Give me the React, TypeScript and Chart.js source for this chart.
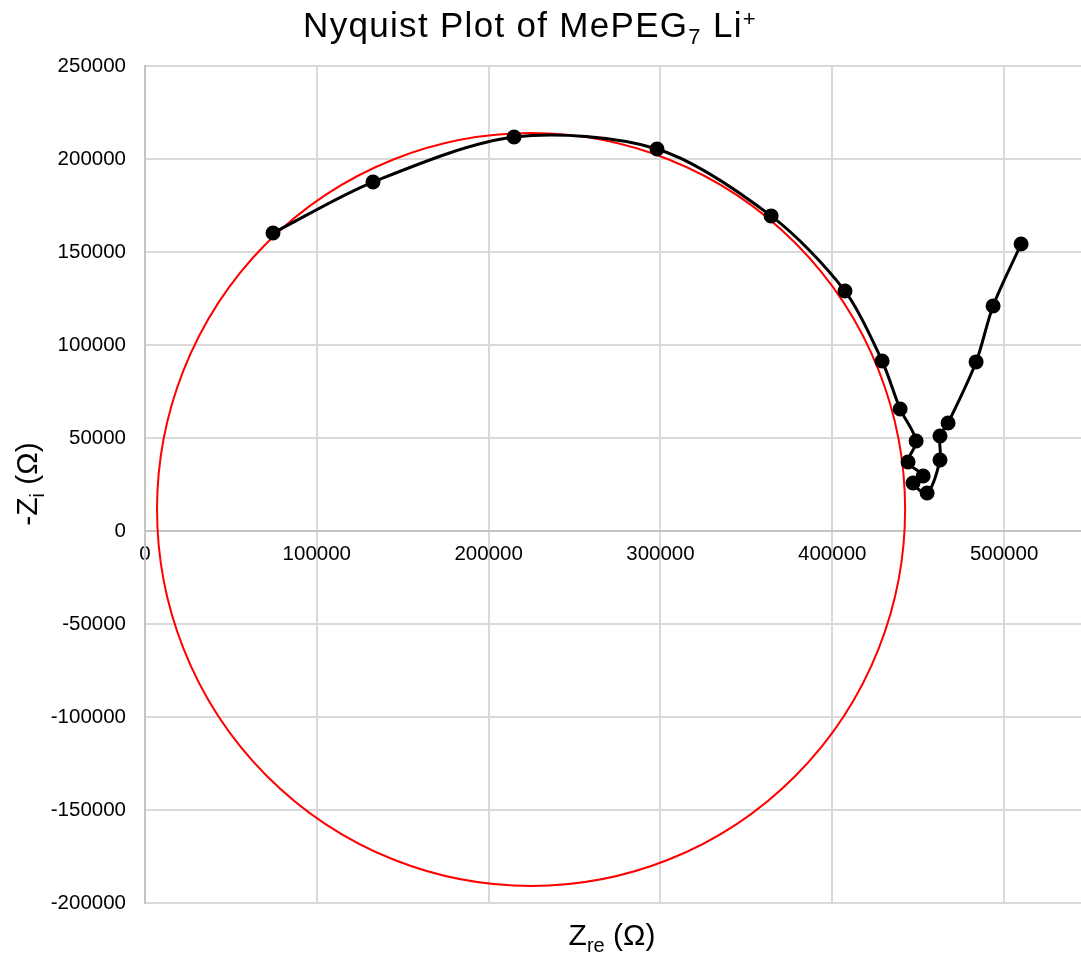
import React, { useEffect, useRef } from 'react';
import { Chart, registerables } from 'chart.js';

Chart.register(...registerables);

// Measured impedance (Ω)
const zRe = [74500, 132700, 214800, 298000, 364400, 407400, 429000, 439500, 448800, 444100, 452900, 447000, 455200, 462700, 462700, 467400, 483700, 493600, 509900];
const negZIm = [160200, 187600, 211800, 205400, 169400, 129000, 91400, 65600, 48400, 37100, 29600, 25800, 20400, 38200, 51100, 58100, 90900, 121000, 154300];

// Fitted circle (as drawn): centre and radii in data units
const circleCentre = [224700, 11560];
const circleRadii = [217700, 202400];

// Axes
const xRange = [0, 550000];
const xTickValues = [0, 100000, 200000, 300000, 400000, 500000];
const yRange = [-200000, 250000];
const yStep = 50000;

const FONT = '"Liberation Sans", Arial, Helvetica, sans-serif';

type Run = { text: string; size: number; dy: number };

function drawRuns(ctx: CanvasRenderingContext2D, runs: Run[], cx: number, baseY: number, spacing = 0) {
  (ctx as any).letterSpacing = `${spacing}px`;
  let total = 0;
  for (const r of runs) {
    ctx.font = `${r.size}px ${FONT}`;
    total += ctx.measureText(r.text).width;
  }
  let x = cx - total / 2;
  ctx.textBaseline = 'alphabetic';
  ctx.textAlign = 'left';
  for (const r of runs) {
    ctx.font = `${r.size}px ${FONT}`;
    ctx.fillText(r.text, x, baseY + r.dy);
    x += ctx.measureText(r.text).width;
  }
  (ctx as any).letterSpacing = '0px';
}

const circlePlugin = {
  id: 'fitCircle',
  beforeDatasetsDraw(chart: any) {
    const { ctx, scales } = chart;
    const xs = scales.x, ys = scales.y;
    const cx = xs.getPixelForValue(circleCentre[0]);
    const cy = ys.getPixelForValue(circleCentre[1]);
    const rx = Math.abs(xs.getPixelForValue(circleCentre[0] + circleRadii[0]) - cx);
    const ry = Math.abs(ys.getPixelForValue(circleCentre[1] + circleRadii[1]) - cy);
    ctx.save();
    ctx.beginPath();
    ctx.ellipse(cx, cy, rx, ry, 0, 0, Math.PI * 2);
    ctx.strokeStyle = '#ff0000';
    ctx.lineWidth = 2;
    ctx.stroke();
    ctx.restore();
  },
};

const textPlugin = {
  id: 'richText',
  afterDraw(chart: any) {
    const { ctx } = chart;
    ctx.save();
    ctx.fillStyle = '#000';
    drawRuns(ctx, [
      { text: 'Nyquist Plot of MePEG', size: 35, dy: 0 },
      { text: '7', size: 22, dy: 7 },
      { text: ' Li', size: 35, dy: 0 },
      { text: '+', size: 22, dy: -11 },
    ], 530, 37, 1.3);
    drawRuns(ctx, [
      { text: 'Z', size: 30, dy: 0 },
      { text: 're', size: 20, dy: 7 },
      { text: ' (Ω)', size: 30, dy: 0 },
    ], 612, 945);
    ctx.translate(37, 484);
    ctx.rotate(-Math.PI / 2);
    drawRuns(ctx, [
      { text: '-Z', size: 30, dy: 0 },
      { text: 'i', size: 20, dy: 7 },
      { text: ' (Ω)', size: 30, dy: 0 },
    ], 0, 0);
    ctx.restore();
  },
};

export default function App() {
  const ref = useRef<HTMLCanvasElement | null>(null);

  useEffect(() => {
    if (!ref.current) return;
    const points = zRe.map((v, i) => ({ x: v, y: negZIm[i] }));
    const chart = new Chart(ref.current, {
      type: 'scatter',
      data: {
        datasets: [
          {
            data: points,
            showLine: true,
            borderColor: '#000',
            backgroundColor: '#000',
            borderWidth: 3,
            pointRadius: 6,
            pointBackgroundColor: '#000',
            pointBorderColor: '#000',
            tension: 0.3,
          },
        ],
      },
      options: {
        animation: false,
        responsive: false,
        devicePixelRatio: 1,
        layout: { padding: { left: 0, top: 66, right: 10, bottom: 55 } },
        plugins: { legend: { display: false }, tooltip: { enabled: false }, title: { display: false } },
        scales: {
          x: {
            type: 'linear',
            position: { y: 0 } as any,
            min: xRange[0],
            max: xRange[1],
            afterBuildTicks: (s: any) => {
              s.ticks = xTickValues.map((v) => ({ value: v }));
            },
            afterFit: (s: any) => {
              s.height = 0;
            },
            grid: { color: '#d9d9d9', lineWidth: 2, drawTicks: false },
            border: { color: '#c4c4c4', width: 2 },
            ticks: {
              padding: 11,
              color: '#000',
              font: { family: FONT, size: 20.5 },
              maxRotation: 0,
              callback: (v: any) => String(v),
            },
          },
          y: {
            type: 'linear',
            min: yRange[0],
            max: yRange[1],
            afterFit: (s: any) => {
              s.width = 145;
            },
            grid: { color: '#d9d9d9', lineWidth: 2, drawTicks: false },
            border: { color: '#c4c4c4', width: 2 },
            ticks: {
              stepSize: yStep,
              padding: 19,
              color: '#000',
              font: { family: FONT, size: 20.5 },
              callback: (v: any) => String(v),
            },
          },
        },
      },
      plugins: [circlePlugin, textPlugin],
    });
    return () => chart.destroy();
  }, []);

  return (
    <div style={{ position: 'absolute', left: 0, top: 0, width: 1081, height: 958, overflow: 'hidden', background: '#fff' }}>
      <canvas ref={ref} width={1100} height={958} style={{ width: 1100, height: 958, display: 'block' }} />
    </div>
  );
}
